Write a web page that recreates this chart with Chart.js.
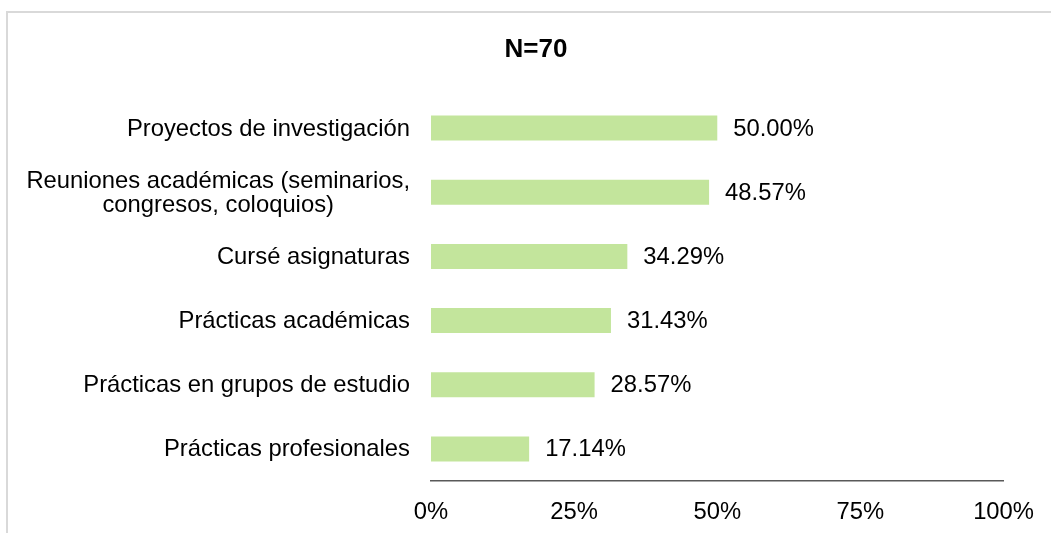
<!DOCTYPE html>
<html>
<head>
<meta charset="utf-8">
<script src="https://cdn.jsdelivr.net/npm/chart.js@4/dist/chart.umd.min.js"></script>
<style>
  html, body { margin: 0; padding: 0; background: #fff; overflow: hidden; }
  #wrap { position: relative; width: 1051px; height: 533px; }
  #frame { position: absolute; left: 6px; top: 11px; width: 1100px; height: 600px;
           border-left: 2px solid #D9D9D9; border-top: 2px solid #D9D9D9; box-sizing: border-box; }
  canvas { position: absolute; left: 0; top: 0; }
</style>
</head>
<body>
<div id="wrap">
  <div id="frame"></div>
  <canvas id="c" width="1051" height="533"></canvas>
</div>
<script>
const titleText = 'N=70';
const categories = [
  ['Proyectos de investigación'],
  ['Reuniones académicas (seminarios,', 'congresos, coloquios)'],
  ['Cursé asignaturas'],
  ['Prácticas académicas'],
  ['Prácticas en grupos de estudio'],
  ['Prácticas profesionales']
];
const values = [50.00, 48.57, 34.29, 31.43, 28.57, 17.14];
const xTicks = [0, 25, 50, 75, 100];

const FONT = '"Liberation Sans", Arial, sans-serif';
const FS = 23.8;

const labelsPlugin = {
  id: 'customLabels',
  afterDatasetsDraw(chart) {
    const ctx = chart.ctx;
    ctx.save();
    ctx.fillStyle = '#000';
    ctx.font = FS + 'px ' + FONT;
    const meta = chart.getDatasetMeta(0);
    meta.data.forEach((bar, i) => {
      ctx.textAlign = 'left';
      ctx.textBaseline = 'middle';
      ctx.fillText(values[i].toFixed(2) + '%', bar.x + 16, bar.y + 1);
    });
    const yScale = chart.scales.y;
    const rightX = chart.chartArea.left - 21;
    const lh = 24.5;
    categories.forEach((lines, i) => {
      const cy = yScale.getPixelForTick(i) + 1;
      const w0 = ctx.measureText(lines[0]).width;
      const centerX = rightX - w0 / 2;
      const startY = cy - (lines.length - 1) * lh / 2;
      lines.forEach((ln, k) => {
        ctx.textBaseline = 'middle';
        if (k === 0) { ctx.textAlign = 'right'; ctx.fillText(ln, rightX, startY); }
        else { ctx.textAlign = 'center'; ctx.fillText(ln, centerX, startY + k * lh); }
      });
    });
    ctx.restore();
  }
};

new Chart(document.getElementById('c'), {
  type: 'bar',
  data: {
    labels: categories,
    datasets: [{
      data: values,
      backgroundColor: '#C3E59C',
      borderWidth: 0,
      barPercentage: 0.39,
      categoryPercentage: 1.0
    }]
  },
  options: {
    indexAxis: 'y',
    responsive: false,
    animation: false,
    events: [],
    layout: { padding: { left: 67, right: 46, top: 0, bottom: 0 } },
    plugins: {
      legend: { display: false },
      tooltip: { enabled: false },
      title: {
        display: true,
        text: titleText,
        color: '#000',
        font: { family: FONT, size: 26, weight: 'bold', lineHeight: 1.2 },
        padding: { top: 34, bottom: 30.8 }
      }
    },
    scales: {
      x: {
        min: 0, max: 100,
        afterBuildTicks(scale) { scale.ticks = xTicks.map(v => ({ value: v })); },
        afterFit(scale) { scale.height = 52; },
        grid: { display: false, drawTicks: false },
        border: { display: true, color: '#595959', width: 1.5 },
        ticks: {
          padding: 17,
          color: '#000',
          font: { family: FONT, size: FS },
          maxRotation: 0,
          callback: (v) => v + '%'
        }
      },
      y: {
        afterFit(scale) { scale.width = 431 - 67; },
        grid: { display: false, drawTicks: false },
        border: { display: false },
        ticks: { display: false }
      }
    }
  },
  plugins: [labelsPlugin]
});
</script>
</body>
</html>
